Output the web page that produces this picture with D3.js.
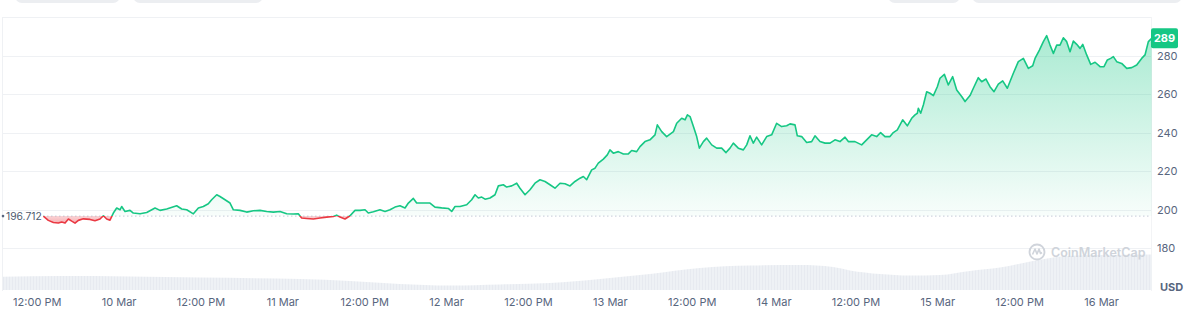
<!DOCTYPE html>
<html lang="en">
<head>
<meta charset="UTF-8">
<title>7D price chart</title>
<script src="https://cdn.jsdelivr.net/npm/d3@7"></script>
<style>
  body { margin: 0; background: #fff; }
  svg { display: block; font-family: Inter, "Noto Sans", sans-serif; }
</style>
</head>
<body>
<script>
  // hours since 9 Mar 00:00 and price (USD)
  const hours = [
    12.97,13.70,14.44,15.17,15.66,16.15,16.64,17.13,17.61,18.10,18.83,19.81,20.54,21.28,21.77,22.25,22.74,23.23,23.72,24.21,
    24.45,24.94,25.67,26.16,27.14,28.12,29.34,30.07,31.05,32.51,33.25,33.98,34.96,35.69,36.42,37.15,37.64,38.38,38.86,39.60,
    40.33,40.82,41.80,42.77,43.75,44.73,45.70,46.68,47.66,48.64,49.61,50.34,50.83,51.57,52.54,53.52,54.50,55.48,55.96,56.45,
    57.18,57.92,58.65,59.38,60.12,60.60,61.34,
    62.31,63.05,63.78,64.51,65.24,65.98,66.47,67.20,67.69,68.66,69.64,70.37,71.35,72.33,72.82,73.31,74.04,75.02,75.75,76.24,
    76.73,77.22,77.71,78.44,79.17,79.66,80.39,80.88,81.61,82.35,82.83,83.57,84.30,85.03,85.76,86.50,87.23,87.96,88.70,89.43,
    90.16,90.89,91.63,92.12,92.61,93.34,93.83,94.31,95.05,95.63,96.02,96.51,97.24,97.98,98.71,99.20,99.93,100.42,101.15,101.88,
    102.62,102.96,103.60,104.33,
    105.32,105.80,106.53,107.02,107.37,107.76,108.25,108.73,109.12,109.71,110.19,110.93,111.66,112.39,113.03,113.61,114.10,114.83,
    115.57,116.06,116.54,117.03,117.52,118.25,118.99,119.72,120.45,121.18,121.92,122.41,123.14,123.48,124.12,124.85,125.58,126.07,
    126.80,127.54,128.27,129.00,129.73,130.47,130.96,131.93,132.91,133.64,134.37,135.11,135.69,136.33,137.06,137.55,138.14,138.92,
    139.60,140.24,140.73,141.07,
    141.22,141.56,141.95,142.44,142.93,143.42,144.00,144.39,145.03,145.61,146.25,146.84,147.57,148.06,148.79,149.28,150.01,150.50,
    151.13,151.72,152.31,152.94,153.58,154.26,155.14,155.87,156.61,157.34,157.98,158.32,158.96,159.54,160.03,160.52,161.01,161.50,
    161.98,162.47,162.96,163.45,163.94,164.43,164.92,165.31,165.89,166.48,167.12,167.85,168.43,168.92,169.41,169.80,170.29,171.02,
    171.76,172.49,173.22,173.95,174.44,174.93,175.42
  ];
  const prices = [
    196.7,194.5,193.4,193.1,193.6,193.1,195.2,194.1,193.1,194.5,195.3,195.0,194.3,195.2,196.9,195.2,194.6,198.3,200.9,200.0,
    201.7,199.1,199.7,198.3,197.9,198.6,200.9,199.7,200.4,202.1,200.4,200.0,197.9,200.9,201.7,203.1,205.2,207.8,206.9,205.2,
    203.5,200.0,199.7,198.8,199.5,199.7,199.1,198.8,199.1,197.9,197.8,197.9,195.7,195.5,195.2,195.7,196.2,196.5,197.2,196.2,
    195.2,196.9,199.7,199.7,200.0,198.3,199.0,
    200.0,199.1,200.0,201.4,202.1,200.9,203.5,205.9,203.5,203.5,203.5,201.4,201.0,200.7,199.1,201.7,201.7,202.6,205.2,207.8,
    206.1,206.6,205.5,206.1,207.8,212.4,213.0,211.8,212.4,213.8,211.2,207.8,210.4,213.8,215.6,214.7,213.0,211.2,213.8,213.5,
    212.4,214.7,216.4,217.3,215.6,220.7,221.6,224.2,226.3,228.5,231.1,229.4,230.2,229.0,229.0,230.8,230.2,232.8,235.4,236.3,
    238.9,244.1,240.6,238.0,
    240.6,244.9,247.5,246.7,249.3,248.4,243.2,238.0,232.0,235.4,237.2,233.7,232.0,232.0,229.7,232.0,234.6,232.0,
    231.1,233.7,238.4,234.6,237.7,233.7,238.0,238.9,244.9,243.2,243.6,244.6,244.1,238.4,238.0,234.9,235.4,238.4,
    235.4,234.6,234.6,236.3,235.4,237.7,235.4,235.4,233.7,236.3,238.9,238.0,240.1,238.0,238.0,240.1,241.5,246.7,
    243.6,247.5,249.3,250.1,
    252.7,250.1,254.4,261.3,260.5,259.3,263.9,268.3,270.3,264.8,269.1,262.2,258.8,256.2,259.3,263.1,268.6,266.5,
    267.9,263.9,261.3,265.2,266.9,263.1,270.9,276.9,278.6,273.4,274.8,278.6,282.9,287.3,290.4,285.5,281.2,285.5,
    285.5,289.3,287.3,282.1,287.6,285.9,283.8,285.9,280.4,275.5,276.6,274.3,274.3,277.8,278.6,279.5,276.9,276.0,
    273.4,273.8,275.2,278.6,280.4,287.3,289.0
  ];

  // volume (relative), same hour base
  const volHours = [7.06,15.41,25.67,35.93,50.59,57.92,65.24,72.57,79.90,87.23,94.56,101.88,109.21,116.54,123.87,128.71,131.20,135.60,140.00,144.39,148.79,153.19,158.03,163.01,167.85,175.42];
  const volumes  = [33,35,34,31,27.5,22.5,15,11,14,17.5,27.5,40,55,61,62.5,57.5,49,40,36,37.5,47.5,56,72.5,85,87.5,89];

  const basePrice = 196.712;
  const lastPrice = 289;
  const yTicks = [180, 200, 220, 240, 260, 280];
  const gridValues = [180, 200, 220, 240, 260, 280, 300];
  const xTickHours = [12, 24, 36, 48, 60, 72, 84, 96, 108, 120, 132, 144, 156, 168];
  const xTickLabels = ["12:00 PM","10 Mar","12:00 PM","11 Mar","12:00 PM","12 Mar","12:00 PM","13 Mar","12:00 PM","14 Mar","12:00 PM","15 Mar","12:00 PM","16 Mar"];

  const W = 1196, H = 309;
  const t0 = Date.UTC(2024, 2, 9);
  const toDate = h => new Date(t0 + h * 3600e3);

  const svg = d3.select("body").append("svg").attr("width", W).attr("height", H);
  const defs = svg.append("defs");

  const x = d3.scaleUtc().domain([toDate(6.91), toDate(175.42)]).range([2, 1151.7]);
  const y = d3.scaleLinear().domain([180, 280]).range([248.3, 55.7]);
  const yv = d3.scaleLinear().domain([0, 100]).range([290, 250]);

  const data = hours.map((h, i) => ({ t: toDate(h), v: prices[i] }));
  const vol = volHours.map((h, i) => ({ t: toDate(h), v: volumes[i] }));
  const yBase = y(basePrice);

  // top ui fragments
  [[15, 105], [133, 130], [888, 72], [972, 210]].forEach(b => {
    svg.append("rect").attr("x", b[0]).attr("y", -14).attr("width", b[1]).attr("height", 17)
      .attr("rx", 7).attr("fill", "#eceef1");
  });

  // grid
  svg.append("g").selectAll("line").data(gridValues).enter().append("line")
    .attr("x1", 2).attr("x2", 1152)
    .attr("y1", d => Math.round(y(d)) + 0.5).attr("y2", d => Math.round(y(d)) + 0.5)
    .attr("stroke", "#eff1f4").attr("stroke-width", 1);
  svg.append("line").attr("x1", 2.5).attr("x2", 2.5).attr("y1", y(300)).attr("y2", 291)
    .attr("stroke", "#eff1f4");
  svg.append("line").attr("x1", 1151.5).attr("x2", 1151.5).attr("y1", y(300)).attr("y2", 291)
    .attr("stroke", "#f3f4f6");

  // volume
  const pat = defs.append("pattern").attr("id", "vstripe").attr("patternUnits", "userSpaceOnUse")
    .attr("width", 3).attr("height", 10);
  pat.append("rect").attr("width", 3).attr("height", 10).attr("fill", "#eef1f5");
  pat.append("rect").attr("width", 1).attr("height", 10).attr("fill", "#e7eaf0");
  const volArea = d3.area().x(d => x(d.t)).y0(yv(0)).y1(d => yv(d.v)).curve(d3.curveMonotoneX);
  svg.append("path").datum(vol).attr("d", volArea).attr("fill", "url(#vstripe)");

  // clips above/below base price
  defs.append("clipPath").attr("id", "above").append("rect")
    .attr("x", 0).attr("y", 0).attr("width", W).attr("height", yBase);
  defs.append("clipPath").attr("id", "below").append("rect")
    .attr("x", 0).attr("y", yBase).attr("width", W).attr("height", H - yBase);

  const gGreen = defs.append("linearGradient").attr("id", "gGreen").attr("gradientUnits", "userSpaceOnUse")
    .attr("x1", 0).attr("x2", 0).attr("y1", y(290)).attr("y2", yBase);
  gGreen.append("stop").attr("offset", 0).attr("stop-color", "#16c784").attr("stop-opacity", 0.36);
  gGreen.append("stop").attr("offset", 1).attr("stop-color", "#16c784").attr("stop-opacity", 0.03);
  const gRed = defs.append("linearGradient").attr("id", "gRed").attr("gradientUnits", "userSpaceOnUse")
    .attr("x1", 0).attr("x2", 0).attr("y1", yBase).attr("y2", y(192));
  gRed.append("stop").attr("offset", 0).attr("stop-color", "#ea3943").attr("stop-opacity", 0.22);
  gRed.append("stop").attr("offset", 1).attr("stop-color", "#ea3943").attr("stop-opacity", 0.45);

  const area = d3.area().x(d => x(d.t)).y0(yBase).y1(d => y(d.v));
  const line = d3.line().x(d => x(d.t)).y(d => y(d.v));

  svg.append("path").datum(data).attr("d", area).attr("fill", "url(#gGreen)").attr("clip-path", "url(#above)");
  svg.append("path").datum(data).attr("d", area).attr("fill", "url(#gRed)").attr("clip-path", "url(#below)");

  // base price dotted line
  svg.append("line").attr("x1", x(data[0].t)).attr("x2", 1151).attr("y1", yBase).attr("y2", yBase)
    .attr("stroke", "#a6b0c3").attr("stroke-width", 1).attr("stroke-dasharray", "1,3");

  svg.append("path").datum(data).attr("d", line).attr("fill", "none").attr("stroke", "#16c784")
    .attr("stroke-width", 1.6).attr("stroke-linejoin", "round").attr("clip-path", "url(#above)");
  svg.append("path").datum(data).attr("d", line).attr("fill", "none").attr("stroke", "#ea3943")
    .attr("stroke-width", 1.6).attr("stroke-linejoin", "round").attr("clip-path", "url(#below)");

  // base price label
  svg.append("circle").attr("cx", 3).attr("cy", yBase).attr("r", 1.3).attr("fill", "#58667e");
  svg.append("text").attr("x", 6).attr("y", yBase + 3.8).text(basePrice.toFixed(3))
    .attr("font-size", 10.3).attr("fill", "#4d596e");

  // y axis
  const yAxis = d3.axisRight(y).tickValues(yTicks).tickSize(0).tickPadding(0).tickFormat(d3.format("d"));
  const gy = svg.append("g").attr("transform", "translate(1157,0)").call(yAxis);
  gy.select(".domain").remove();
  gy.selectAll("text").attr("font-size", 11).attr("fill", "#58667e").attr("font-family", "Inter, sans-serif");
  svg.append("text").attr("x", 1160).attr("y", 291).text("USD")
    .attr("font-size", 11).attr("font-weight", 700).attr("fill", "#58667e");

  // x axis
  const xAxis = d3.axisBottom(x).tickValues(xTickHours.map(toDate)).tickSize(0).tickPadding(0)
    .tickFormat((d, i) => xTickLabels[i]);
  const gx = svg.append("g").attr("transform", "translate(0,298)").call(xAxis);
  gx.select(".domain").remove();
  gx.selectAll("text").attr("font-size", 11).attr("fill", "#58667e").attr("font-family", "Inter, sans-serif");

  // last price badge
  const yl = y(lastPrice);
  svg.append("rect").attr("x", 1151).attr("y", yl - 10).attr("width", 27).attr("height", 20)
    .attr("rx", 2).attr("fill", "#16c784");
  svg.append("text").attr("x", 1164.5).attr("y", yl + 4).attr("text-anchor", "middle").text(lastPrice)
    .attr("font-size", 11).attr("font-weight", 700).attr("fill", "#fff");

  // watermark
  const wm = svg.append("g").attr("transform", "translate(1037,252)").attr("opacity", 0.9);
  wm.append("circle").attr("r", 7.5).attr("fill", "none").attr("stroke", "#cbd0d8").attr("stroke-width", 1.8);
  wm.append("path").attr("d", "M-4.5,2.5 L-2,-3 L0,2 L2,-3 L3.5,1.5 L5,0.5")
    .attr("fill", "none").attr("stroke", "#cbd0d8").attr("stroke-width", 1.6).attr("stroke-linejoin", "round");
  wm.append("text").attr("x", 14).attr("y", 4.5).text("CoinMarketCap")
    .attr("font-size", 12.5).attr("font-weight", 600).attr("fill", "#cbd0d8");
</script>
</body>
</html>
